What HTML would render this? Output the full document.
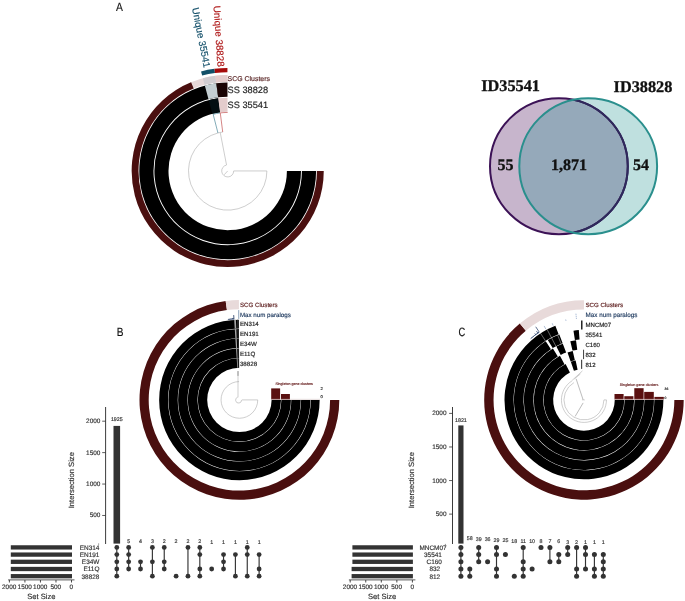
<!DOCTYPE html>
<html><head><meta charset="utf-8"><title>Figure</title>
<style>html,body{margin:0;padding:0;background:#fff}svg{display:block}text{text-rendering:geometricPrecision;font-family:"Liberation Sans",sans-serif}.serif{font-family:"Liberation Serif",serif;font-weight:bold}</style>
</head><body>
<svg width="685" height="601" viewBox="0 0 685 601">
<rect width="685" height="601" fill="#fff"/>
<text transform="translate(116.1,11.2) scale(0.86,1)" font-size="12" fill="#111" stroke="#111" stroke-width="0.15">A</text>
<text transform="translate(116.8,336.4) scale(0.84,1)" font-size="12" fill="#111" stroke="#111" stroke-width="0.15">B</text>
<text transform="translate(458.5,335.8) scale(0.78,1)" font-size="12" fill="#111" stroke="#111" stroke-width="0.15">C</text>
<g transform="translate(227.7,170.95) scale(1,1)">
<path d="M96.05 0A96.05 96.05 0 1 1 -36.14 -88.99L-33.56 -82.65A89.2 89.2 0 1 0 89.2 0Z" fill="#4a0f0f" />
<path d="M-36.6 -88.8A96.05 96.05 0 0 1 -0.25 -96.05L-0.23 -89.2A89.2 89.2 0 0 0 -33.99 -82.47Z" fill="#e7d8d8" />
<path d="M-24.86 -92.78A96.05 96.05 0 0 1 -12.37 -95.25L-11.49 -88.46A89.2 89.2 0 0 0 -23.09 -86.16Z" fill="#d0ccd0" />
<path d="M-12.37 -95.25A96.05 96.05 0 0 1 -0.25 -96.05L-0.23 -89.2A89.2 89.2 0 0 0 -11.49 -88.46Z" fill="#e4cccc" />
<path d="M88.4 0A88.4 88.4 0 1 1 -11.08 -87.7L-9.3 -73.61A74.2 74.2 0 1 0 74.2 0Z" fill="#000" />
<path d="M-22.88 -85.39A88.4 88.4 0 0 1 -11.39 -87.66L-9.56 -73.58A74.2 74.2 0 0 0 -19.2 -71.67Z" fill="#c4ced2" />
<path d="M-11.39 -87.66A88.4 88.4 0 0 1 -0.23 -88.4L-0.19 -74.2A74.2 74.2 0 0 0 -9.56 -73.58Z" fill="#1a0404" />
<path d="M73.3 0A73.3 73.3 0 1 1 -9.44 -72.69L-7.62 -58.71A59.2 59.2 0 1 0 59.2 0Z" fill="#000" />
<path d="M-18.97 -70.8A73.3 73.3 0 0 1 -9.44 -72.69L-7.62 -58.71A59.2 59.2 0 0 0 -15.32 -57.18Z" fill="#030e12" />
<path d="M-9.44 -72.69A73.3 73.3 0 0 1 -0.19 -73.3L-0.15 -59.2A59.2 59.2 0 0 0 -7.62 -58.71Z" fill="#e4cccc" />
<path d="M-26.66 -99.49A103 103 0 0 1 -13.27 -102.14L-12.71 -97.88A98.7 98.7 0 0 0 -25.55 -95.34Z" fill="#115068" />
<path d="M-13.27 -102.14A103 103 0 0 1 -0.27 -103L-0.26 -98.7A98.7 98.7 0 0 0 -12.71 -97.88Z" fill="#a50a0a" />
<path d="M39.2 0A39.2 39.2 0 1 1 -9.75 -37.97" fill="none" stroke="#9c9c9c" stroke-width="0.5" />
<line x1="6" y1="0" x2="39.2" y2="0" stroke="#9c9c9c" stroke-width="0.5" />
<path d="M6 0A6 6 0 1 1 -1.25 -5.87" fill="none" stroke="#9c9c9c" stroke-width="0.5" />
<line x1="0" y1="0" x2="-3.5" y2="3.8" stroke="#9c9c9c" stroke-width="0.5" />
<line x1="-1.14" y1="-5.89" x2="-7.48" y2="-38.48" stroke="#9c9c9c" stroke-width="0.5"/>
<path d="M-9.75 -37.97A39.2 39.2 0 0 1 -4.98 -38.88" fill="none" stroke="#9c9c9c" stroke-width="0.5" />
<line x1="-9.75" y1="-37.97" x2="-14.55" y2="-56.66" stroke="#2f7488" stroke-width="0.6"/>
<path d="M-14.55 -56.66A58.5 58.5 0 0 1 -7.64 -58" fill="none" stroke="#2f7488" stroke-width="0.6" />
<line x1="-4.98" y1="-38.88" x2="-7.43" y2="-58.03" stroke="#b83434" stroke-width="0.6"/>
<path d="M-7.43 -58.03A58.5 58.5 0 0 1 -0 -58.5" fill="none" stroke="#b83434" stroke-width="0.6" />
</g>
<text x="227.6" y="80.6" font-size="6.95" fill="#5a2626" stroke="#5a2626" stroke-width="0.16" text-anchor="start" >SCG Clusters</text>
<text x="227.5" y="93.2" font-size="9.25" fill="#1a1a1a" stroke="#1a1a1a" stroke-width="0.16" text-anchor="start" >SS 38828</text>
<text x="227.5" y="108.4" font-size="9.25" fill="#1a1a1a" stroke="#1a1a1a" stroke-width="0.16" text-anchor="start" >SS 35541</text>
<g transform="translate(227.7,170.95) rotate(86.3)">
<text x="-104.5" y="3.4" font-size="9.8" fill="#b01a1a" stroke="#b01a1a" stroke-width="0.16" text-anchor="end" >Unique 38828</text>
</g>
<g transform="translate(227.7,170.95) rotate(78.8)">
<text x="-105.5" y="3.4" font-size="9.8" fill="#14506a" stroke="#14506a" stroke-width="0.16" text-anchor="end" >Unique 35541</text>
</g>
<ellipse cx="558.9" cy="166.2" rx="68.9" ry="68.0" fill="#c7b5cc"/>
<ellipse cx="588.2" cy="166.2" rx="68.9" ry="68.0" fill="#bfe0df"/>
<clipPath id="cv"><ellipse cx="558.9" cy="166.2" rx="68.9" ry="68.0"/></clipPath>
<clipPath id="ct"><ellipse cx="588.2" cy="166.2" rx="68.9" ry="68.0"/></clipPath>
<ellipse cx="588.2" cy="166.2" rx="68.9" ry="68.0" fill="#95a9ba" clip-path="url(#cv)"/>
<ellipse cx="558.9" cy="166.2" rx="68.9" ry="68.0" fill="none" stroke="#3c1256" stroke-width="2"/>
<ellipse cx="558.9" cy="166.2" rx="68.9" ry="68.0" fill="none" stroke="#2e2a5c" stroke-width="2" clip-path="url(#ct)"/>
<ellipse cx="588.2" cy="166.2" rx="68.9" ry="68.0" fill="none" stroke="#2a8f8d" stroke-width="2"/>
<text x="481.2" y="91.2" font-size="16.3" fill="#111" stroke="#111" stroke-width="0.3" text-anchor="start" class="serif">ID35541</text>
<text x="613.6" y="92.2" font-size="16.3" fill="#111" stroke="#111" stroke-width="0.3" text-anchor="start" class="serif">ID38828</text>
<text x="505.5" y="169.8" font-size="16" fill="#111" stroke="#111" stroke-width="0.3" text-anchor="middle" class="serif">55</text>
<text x="569" y="169.8" font-size="16" fill="#111" stroke="#111" stroke-width="0.3" text-anchor="middle" class="serif">1,871</text>
<text x="641" y="169.8" font-size="16" fill="#111" stroke="#111" stroke-width="0.3" text-anchor="middle" class="serif">54</text>
<g transform="translate(239.4,399.9) scale(1,1)">
<path d="M99.9 0A99.9 99.9 0 1 1 -13.73 -98.95L-12.47 -89.84A90.7 90.7 0 1 0 90.7 0Z" fill="#4a0f0f" />
<path d="M-13.73 -98.95A99.9 99.9 0 0 1 -0.49 -99.9L-0.44 -90.7A90.7 90.7 0 0 0 -12.47 -89.84Z" fill="#e8dada" />
<path d="M80.25 0A80.25 80.25 0 1 1 -0.56 -80.25L-0.5 -71.4A71.4 71.4 0 1 0 71.4 0Z" fill="#000" />
<path d="M71 0A71 71 0 1 1 -0.5 -71L-0.43 -61.7A61.7 61.7 0 1 0 61.7 0Z" fill="#000" />
<path d="M61.3 0A61.3 61.3 0 1 1 -0.43 -61.3L-0.36 -51.9A51.9 51.9 0 1 0 51.9 0Z" fill="#000" />
<path d="M51.5 0A51.5 51.5 0 1 1 -0.36 -51.5L-0.29 -42A42 42 0 1 0 42 0Z" fill="#000" />
<path d="M41.6 0A41.6 41.6 0 1 1 -0.29 -41.6L-0.22 -32.2A32.2 32.2 0 1 0 32.2 0Z" fill="#000" />
<path d="M-5.25 -80.08A80.25 80.25 0 0 1 -3.5 -80.17L-3.11 -71.33A71.4 71.4 0 0 0 -4.67 -71.25Z" fill="#a4a4a4" />
<path d="M-2.1 -80.22A80.25 80.25 0 0 1 -1.26 -80.24L-1.12 -71.39A71.4 71.4 0 0 0 -1.87 -71.38Z" fill="#3a3a3a" />
<path d="M-4.64 -70.85A71 71 0 0 1 -3.1 -70.93L-2.69 -61.64A61.7 61.7 0 0 0 -4.04 -61.57Z" fill="#a4a4a4" />
<path d="M-1.86 -70.98A71 71 0 0 1 -1.12 -70.99L-0.97 -61.69A61.7 61.7 0 0 0 -1.62 -61.68Z" fill="#3a3a3a" />
<path d="M-4.01 -61.17A61.3 61.3 0 0 1 -2.67 -61.24L-2.26 -51.85A51.9 51.9 0 0 0 -3.39 -51.79Z" fill="#a4a4a4" />
<path d="M-1.6 -61.28A61.3 61.3 0 0 1 -0.96 -61.29L-0.82 -51.89A51.9 51.9 0 0 0 -1.36 -51.88Z" fill="#3a3a3a" />
<path d="M-3.37 -51.39A51.5 51.5 0 0 1 -2.25 -51.45L-1.83 -41.96A42 42 0 0 0 -2.75 -41.91Z" fill="#a4a4a4" />
<path d="M-1.35 -51.48A51.5 51.5 0 0 1 -0.81 -51.49L-0.66 -41.99A42 42 0 0 0 -1.1 -41.99Z" fill="#3a3a3a" />
<path d="M-2.72 -41.51A41.6 41.6 0 0 1 -1.81 -41.56L-1.4 -32.17A32.2 32.2 0 0 0 -2.11 -32.13Z" fill="#a4a4a4" />
<path d="M-1.09 -41.59A41.6 41.6 0 0 1 -0.65 -41.59L-0.51 -32.2A32.2 32.2 0 0 0 -0.84 -32.19Z" fill="#3a3a3a" />
<line x1="-0.64" y1="-81" x2="-0.71" y2="-89.8" stroke="#6f8aa8" stroke-width="0.8"/>
<line x1="-10.94" y1="-79.85" x2="-11.06" y2="-80.75" stroke="#1c3560" stroke-width="0.8"/>
<line x1="-10.1" y1="-79.96" x2="-10.26" y2="-81.25" stroke="#1c3560" stroke-width="0.8"/>
<line x1="-9.26" y1="-80.07" x2="-9.38" y2="-81.06" stroke="#1c3560" stroke-width="0.8"/>
<line x1="-8.42" y1="-80.16" x2="-8.57" y2="-81.55" stroke="#1c3560" stroke-width="0.8"/>
<line x1="-7.59" y1="-80.24" x2="-7.7" y2="-81.44" stroke="#1c3560" stroke-width="0.8"/>
<line x1="-6.74" y1="-80.32" x2="-6.87" y2="-81.81" stroke="#1c3560" stroke-width="0.8"/>
<line x1="-6.04" y1="-80.37" x2="-6.16" y2="-81.97" stroke="#1c3560" stroke-width="0.8"/>
<line x1="-5.41" y1="-80.42" x2="-5.71" y2="-84.81" stroke="#1c3560" stroke-width="0.8"/>
<path d="M18.35 0A18.35 18.35 0 1 1 -0.32 -18.35" fill="none" stroke="#9c9c9c" stroke-width="0.5" />
<line x1="2.6" y1="0" x2="18.35" y2="0" stroke="#9c9c9c" stroke-width="0.5" />
<path d="M2.6 0A3 3 0 1 1 -1.3 -2.7" transform="translate(-0.4,0)" fill="none" stroke="#9c9c9c" stroke-width="0.5"/>
<line x1="-1.4" y1="-2.6" x2="-1.4" y2="-28.8" stroke="#9c9c9c" stroke-width="0.5" />
<line x1="-1.4" y1="-24" x2="-1.4" y2="-28.8" stroke="#777" stroke-width="0.7" />
</g>
<rect x="271.2" y="388.4" width="8.9" height="11.1" fill="#5a1010"/>
<rect x="281.0" y="394.0" width="8.9" height="5.5" fill="#5a1010"/>
<line x1="271.2" y1="399.3" x2="320" y2="399.3" stroke="#cbb8b8" stroke-width="0.5" />
<text x="275.4" y="385.3" font-size="3.62" fill="#6e2a2a" stroke="#6e2a2a" stroke-width="0.16" text-anchor="start" >Singleton gene clusters</text>
<text x="320.4" y="389.7" font-size="4.2" fill="#222" stroke="#222" stroke-width="0.16" text-anchor="start" >2</text>
<text x="320.4" y="398.4" font-size="4.2" fill="#222" stroke="#222" stroke-width="0.16" text-anchor="start" >0</text>
<text x="239.9" y="306.9" font-size="6.2" fill="#5a1a1a" stroke="#5a1a1a" stroke-width="0.16" text-anchor="start" >SCG Clusters</text>
<text x="239.9" y="316.6" font-size="6.2" fill="#1f3a5f" stroke="#1f3a5f" stroke-width="0.16" text-anchor="start" >Max num paralogs</text>
<text x="239.9" y="326.3" font-size="6.2" fill="#222" stroke="#222" stroke-width="0.16" text-anchor="start" >EN314</text>
<text x="239.9" y="336" font-size="6.2" fill="#222" stroke="#222" stroke-width="0.16" text-anchor="start" >EN191</text>
<text x="239.9" y="345.9" font-size="6.2" fill="#222" stroke="#222" stroke-width="0.16" text-anchor="start" >E34W</text>
<text x="239.9" y="355.9" font-size="6.2" fill="#222" stroke="#222" stroke-width="0.16" text-anchor="start" >E11Q</text>
<text x="239.9" y="365.8" font-size="6.2" fill="#222" stroke="#222" stroke-width="0.16" text-anchor="start" >38828</text>
<g transform="translate(583.95,399.9) scale(1,1)">
<path d="M99.75 0A99.75 99.75 0 1 1 -64.12 -76.41L-58.11 -69.25A90.4 90.4 0 1 0 90.4 0Z" fill="#4a0f0f" />
<path d="M-64.12 -76.41A99.75 99.75 0 0 1 -0 -99.75L-0 -90.4A90.4 90.4 0 0 0 -58.11 -69.25Z" fill="#e8dada" />
<path d="M79.45 0A79.45 79.45 0 1 1 -28.6 -74.12L-25.34 -65.68A70.4 70.4 0 1 0 70.4 0Z" fill="#000" />
<path d="M70 0A70 70 0 1 1 -38.23 -58.64L-33.04 -50.68A60.5 60.5 0 1 0 60.5 0Z" fill="#000" />
<path d="M-36.16 -59.94A70 70 0 0 1 -24.63 -65.52L-21.29 -56.63A60.5 60.5 0 0 0 -31.25 -51.8Z" fill="#000" />
<path d="M60.1 0A60.1 60.1 0 1 1 -31.04 -51.46L-26.14 -43.33A50.6 50.6 0 1 0 50.6 0Z" fill="#000" />
<path d="M-27.56 -53.41A60.1 60.1 0 0 1 -21.15 -56.26L-17.8 -47.36A50.6 50.6 0 0 0 -23.21 -44.96Z" fill="#000" />
<path d="M50.2 0A50.2 50.2 0 1 1 -24.03 -44.07L-19.48 -35.73A40.7 40.7 0 1 0 40.7 0Z" fill="#000" />
<path d="M40.3 0A40.3 40.3 0 1 1 -18.36 -35.88L-14.03 -27.42A30.8 30.8 0 1 0 30.8 0Z" fill="#000" />
<path d="M-10.47 -69.21A70 70 0 0 1 -5.13 -69.81L-4.43 -60.34A60.5 60.5 0 0 0 -9.05 -59.82Z" fill="#000" />
<path d="M-13.62 -58.54A60.1 60.1 0 0 1 -7.95 -59.57L-6.69 -50.16A50.6 50.6 0 0 0 -11.47 -49.28Z" fill="#000" />
<path d="M-16.43 -47.44A50.2 50.2 0 0 1 -11.21 -48.93L-9.09 -39.67A40.7 40.7 0 0 0 -13.32 -38.46Z" fill="#000" />
<path d="M-13.12 -38.1A40.3 40.3 0 0 1 -8.31 -39.43L-6.35 -30.14A30.8 30.8 0 0 0 -10.03 -29.12Z" fill="#000" />
<rect x="-2.8" y="-79.4" width="1.3" height="9.0" fill="#000"/>
<rect x="-0.7" y="-50.2" width="0.8" height="9.4" fill="#111"/>
<rect x="-2.7" y="-40.2" width="0.9" height="9.2" fill="#111"/>
<line x1="-38.34" y1="-58.81" x2="-43.5" y2="-66.72" stroke="#fff" stroke-width="0.4"/>
<line x1="-27.94" y1="-53.44" x2="-36.9" y2="-70.59" stroke="#fff" stroke-width="0.4"/>
<line x1="-22.69" y1="-55.87" x2="-26.41" y2="-65.04" stroke="#fff" stroke-width="0.4"/>
<path d="M-53.27 -61.28A81.2 81.2 0 0 1 -44.94 -67.63" fill="none" stroke="#1c3560" stroke-width="0.9" />
<line x1="-44.59" y1="-67.62" x2="-48.22" y2="-73.13" stroke="#1c3560" stroke-width="0.7"/>
<line x1="-46" y1="-66.67" x2="-47.47" y2="-68.81" stroke="#1c3560" stroke-width="0.7"/>
<line x1="-48.18" y1="-65.11" x2="-49.25" y2="-66.56" stroke="#1c3560" stroke-width="0.6"/>
<line x1="-38.16" y1="-70.88" x2="-39.82" y2="-73.96" stroke="#5577aa" stroke-width="0.45"/>
<line x1="-30.81" y1="-74.37" x2="-31.76" y2="-76.68" stroke="#5577aa" stroke-width="0.45"/>
<line x1="-17.95" y1="-78.99" x2="-18.28" y2="-80.45" stroke="#5577aa" stroke-width="0.45"/>
<line x1="-7.51" y1="-80.95" x2="-8.04" y2="-86.63" stroke="#5577aa" stroke-width="0.5" stroke-dasharray="1.3 0.7"/>
<path d="M22.5 0A22.5 22.5 0 1 1 -11.92 -19.08" fill="none" stroke="#9c9c9c" stroke-width="0.5" />
<path d="M20 0A20 20 0 1 1 -10 -17.32" fill="none" stroke="#9c9c9c" stroke-width="0.5" />
<line x1="20" y1="0" x2="22.5" y2="0" stroke="#9c9c9c" stroke-width="0.5" />
<line x1="-7.8" y1="-21" x2="-0.8" y2="0" stroke="#858585" stroke-width="0.55" />
<line x1="-0.8" y1="3" x2="-8.8" y2="16.5" stroke="#858585" stroke-width="0.55" />
<line x1="-2" y1="0" x2="1" y2="0" stroke="#9c9c9c" stroke-width="0.4" />
<line x1="-11.8" y1="-19.5" x2="-1.5" y2="-29" stroke="#9c9c9c" stroke-width="0.5" />
<line x1="-9.5" y1="-21" x2="-3.5" y2="-26" stroke="#9c9c9c" stroke-width="0.5" />
</g>
<rect x="614.5" y="394.0" width="9.1" height="5.5" fill="#5a1010"/>
<rect x="624.3" y="396.2" width="9.1" height="3.3" fill="#5a1010"/>
<rect x="634.3" y="388.2" width="9.3" height="11.3" fill="#5a1010"/>
<rect x="644.2" y="391.9" width="9.6" height="7.6" fill="#5a1010"/>
<rect x="654.4" y="396.9" width="9.4" height="2.6" fill="#5a1010"/>
<line x1="614.5" y1="399.3" x2="664" y2="399.3" stroke="#cbb8b8" stroke-width="0.5" />
<text x="619.8" y="386.1" font-size="3.72" fill="#6e2a2a" stroke="#6e2a2a" stroke-width="0.16" text-anchor="start" >Singleton gene clusters</text>
<text x="664.6" y="389.6" font-size="3.4" fill="#222" stroke="#222" stroke-width="0.16" text-anchor="start" >36</text>
<text x="664.6" y="398.8" font-size="3.4" fill="#222" stroke="#222" stroke-width="0.16" text-anchor="start" >0</text>
<text x="585.5" y="306.5" font-size="6.15" fill="#5a1a1a" stroke="#5a1a1a" stroke-width="0.16" text-anchor="start" >SCG Clusters</text>
<text x="585.5" y="316.6" font-size="6.3" fill="#1f3a5f" stroke="#1f3a5f" stroke-width="0.16" text-anchor="start" >Max num paralogs</text>
<text x="585.5" y="326.85" font-size="6.05" fill="#222" stroke="#222" stroke-width="0.16" text-anchor="start" >MNCM07</text>
<text x="585.5" y="336.85" font-size="6.05" fill="#222" stroke="#222" stroke-width="0.16" text-anchor="start" >35541</text>
<text x="585.5" y="346.85" font-size="6.05" fill="#222" stroke="#222" stroke-width="0.16" text-anchor="start" >C160</text>
<text x="585.5" y="356.85" font-size="6.05" fill="#222" stroke="#222" stroke-width="0.16" text-anchor="start" >832</text>
<text x="585.5" y="366.85" font-size="6.05" fill="#222" stroke="#222" stroke-width="0.16" text-anchor="start" >812</text>
<line x1="105.6" y1="407" x2="105.6" y2="544" stroke="#3c3c3c" stroke-width="1.0" />
<line x1="102.2" y1="515.48" x2="105.6" y2="515.48" stroke="#333" stroke-width="0.8" />
<text x="100.4" y="517.48" font-size="6.45" fill="#333" stroke="#333" stroke-width="0.16" text-anchor="end" >500</text>
<line x1="102.2" y1="484.05" x2="105.6" y2="484.05" stroke="#333" stroke-width="0.8" />
<text x="100.4" y="486.05" font-size="6.45" fill="#333" stroke="#333" stroke-width="0.16" text-anchor="end" >1000</text>
<line x1="102.2" y1="452.62" x2="105.6" y2="452.62" stroke="#333" stroke-width="0.8" />
<text x="100.4" y="454.62" font-size="6.45" fill="#333" stroke="#333" stroke-width="0.16" text-anchor="end" >1500</text>
<line x1="102.2" y1="421.2" x2="105.6" y2="421.2" stroke="#333" stroke-width="0.8" />
<text x="100.4" y="423.2" font-size="6.45" fill="#333" stroke="#333" stroke-width="0.16" text-anchor="end" >2000</text>
<text transform="translate(73.8,480.2) rotate(-90)" font-size="7.6" fill="#333" stroke="#333" stroke-width="0.16" text-anchor="middle">Intersection Size</text>
<rect x="113.5" y="425.91" width="6.6" height="117.69" fill="#333"/>
<text x="116.8" y="421.01" font-size="5.3" fill="#333" stroke="#333" stroke-width="0.16" text-anchor="middle" >1925</text>
<text x="128.66" y="543.29" font-size="5.3" fill="#333" stroke="#333" stroke-width="0.16" text-anchor="middle" >5</text>
<text x="140.52" y="543.35" font-size="5.3" fill="#333" stroke="#333" stroke-width="0.16" text-anchor="middle" >4</text>
<text x="152.38" y="543.41" font-size="5.3" fill="#333" stroke="#333" stroke-width="0.16" text-anchor="middle" >3</text>
<text x="164.24" y="543.47" font-size="5.3" fill="#333" stroke="#333" stroke-width="0.16" text-anchor="middle" >2</text>
<text x="176.1" y="543.47" font-size="5.3" fill="#333" stroke="#333" stroke-width="0.16" text-anchor="middle" >2</text>
<text x="187.96" y="543.47" font-size="5.3" fill="#333" stroke="#333" stroke-width="0.16" text-anchor="middle" >2</text>
<text x="199.82" y="543.47" font-size="5.3" fill="#333" stroke="#333" stroke-width="0.16" text-anchor="middle" >2</text>
<text x="211.68" y="543.54" font-size="5.3" fill="#333" stroke="#333" stroke-width="0.16" text-anchor="middle" >1</text>
<text x="223.54" y="543.54" font-size="5.3" fill="#333" stroke="#333" stroke-width="0.16" text-anchor="middle" >1</text>
<text x="235.4" y="543.54" font-size="5.3" fill="#333" stroke="#333" stroke-width="0.16" text-anchor="middle" >1</text>
<text x="247.26" y="543.54" font-size="5.3" fill="#333" stroke="#333" stroke-width="0.16" text-anchor="middle" >1</text>
<text x="259.12" y="543.54" font-size="5.3" fill="#333" stroke="#333" stroke-width="0.16" text-anchor="middle" >1</text>
<line x1="116.8" y1="547.4" x2="116.8" y2="576.2" stroke="#333" stroke-width="1.15" />
<circle cx="116.8" cy="547.4" r="2.4" fill="#333"/>
<circle cx="116.8" cy="554.6" r="2.4" fill="#333"/>
<circle cx="116.8" cy="561.8" r="2.4" fill="#333"/>
<circle cx="116.8" cy="569.0" r="2.4" fill="#333"/>
<circle cx="116.8" cy="576.2" r="2.4" fill="#333"/>
<line x1="128.66" y1="547.4" x2="128.66" y2="569" stroke="#333" stroke-width="1.15" />
<circle cx="128.66" cy="547.4" r="2.4" fill="#333"/>
<circle cx="128.66" cy="554.6" r="2.4" fill="#333"/>
<circle cx="128.66" cy="561.8" r="2.4" fill="#333"/>
<circle cx="128.66" cy="569.0" r="2.4" fill="#333"/>
<line x1="140.52" y1="561.8" x2="140.52" y2="569" stroke="#333" stroke-width="1.15" />
<circle cx="140.52" cy="561.8" r="2.4" fill="#333"/>
<circle cx="140.52" cy="569.0" r="2.4" fill="#333"/>
<line x1="152.38" y1="547.4" x2="152.38" y2="576.2" stroke="#333" stroke-width="1.15" />
<circle cx="152.38" cy="547.4" r="2.4" fill="#333"/>
<circle cx="152.38" cy="561.8" r="2.4" fill="#333"/>
<circle cx="152.38" cy="576.2" r="2.4" fill="#333"/>
<line x1="164.24" y1="547.4" x2="164.24" y2="569" stroke="#333" stroke-width="1.15" />
<circle cx="164.24" cy="547.4" r="2.4" fill="#333"/>
<circle cx="164.24" cy="561.8" r="2.4" fill="#333"/>
<circle cx="164.24" cy="569.0" r="2.4" fill="#333"/>
<circle cx="176.1" cy="576.2" r="2.4" fill="#333"/>
<line x1="187.96" y1="547.4" x2="187.96" y2="576.2" stroke="#333" stroke-width="1.15" />
<circle cx="187.96" cy="547.4" r="2.4" fill="#333"/>
<circle cx="187.96" cy="576.2" r="2.4" fill="#333"/>
<line x1="199.82" y1="547.4" x2="199.82" y2="576.2" stroke="#333" stroke-width="1.15" />
<circle cx="199.82" cy="547.4" r="2.4" fill="#333"/>
<circle cx="199.82" cy="554.6" r="2.4" fill="#333"/>
<circle cx="199.82" cy="569.0" r="2.4" fill="#333"/>
<circle cx="199.82" cy="576.2" r="2.4" fill="#333"/>
<circle cx="211.68" cy="569.0" r="2.4" fill="#333"/>
<line x1="223.54" y1="554.6" x2="223.54" y2="569" stroke="#333" stroke-width="1.15" />
<circle cx="223.54" cy="554.6" r="2.4" fill="#333"/>
<circle cx="223.54" cy="561.8" r="2.4" fill="#333"/>
<circle cx="223.54" cy="569.0" r="2.4" fill="#333"/>
<line x1="235.4" y1="554.6" x2="235.4" y2="576.2" stroke="#333" stroke-width="1.15" />
<circle cx="235.4" cy="554.6" r="2.4" fill="#333"/>
<circle cx="235.4" cy="576.2" r="2.4" fill="#333"/>
<line x1="247.26" y1="547.4" x2="247.26" y2="576.2" stroke="#333" stroke-width="1.15" />
<circle cx="247.26" cy="547.4" r="2.4" fill="#333"/>
<circle cx="247.26" cy="554.6" r="2.4" fill="#333"/>
<circle cx="247.26" cy="576.2" r="2.4" fill="#333"/>
<line x1="259.12" y1="554.6" x2="259.12" y2="576.2" stroke="#333" stroke-width="1.15" />
<circle cx="259.12" cy="554.6" r="2.4" fill="#333"/>
<circle cx="259.12" cy="569.0" r="2.4" fill="#333"/>
<circle cx="259.12" cy="576.2" r="2.4" fill="#333"/>
<rect x="10.8" y="545.25" width="61.2" height="4.3" fill="#333"/>
<text x="99.4" y="549.8" font-size="6.45" fill="#333" stroke="#333" stroke-width="0.16" text-anchor="end" >EN314</text>
<rect x="10.8" y="552.45" width="61.2" height="4.3" fill="#333"/>
<text x="99.4" y="557" font-size="6.45" fill="#333" stroke="#333" stroke-width="0.16" text-anchor="end" >EN191</text>
<rect x="10.8" y="559.65" width="61.2" height="4.3" fill="#333"/>
<text x="99.4" y="564.2" font-size="6.45" fill="#333" stroke="#333" stroke-width="0.16" text-anchor="end" >E34W</text>
<rect x="10.8" y="566.85" width="61.2" height="4.3" fill="#333"/>
<text x="99.4" y="571.4" font-size="6.45" fill="#333" stroke="#333" stroke-width="0.16" text-anchor="end" >E11Q</text>
<rect x="10.8" y="574.05" width="61.2" height="4.3" fill="#333"/>
<text x="99.4" y="578.6" font-size="6.45" fill="#333" stroke="#333" stroke-width="0.16" text-anchor="end" >38828</text>
<line x1="8.1" y1="579.9" x2="74.5" y2="579.9" stroke="#5a5a5a" stroke-width="1.0" />
<line x1="71.5" y1="580" x2="71.5" y2="582.5" stroke="#333" stroke-width="0.9" />
<text x="71.3" y="589.4" font-size="6.45" fill="#333" stroke="#333" stroke-width="0.16" text-anchor="middle" >0</text>
<line x1="55.98" y1="580" x2="55.98" y2="582.5" stroke="#333" stroke-width="0.9" />
<text x="55.77" y="589.4" font-size="6.45" fill="#333" stroke="#333" stroke-width="0.16" text-anchor="middle" >500</text>
<line x1="40.45" y1="580" x2="40.45" y2="582.5" stroke="#333" stroke-width="0.9" />
<text x="40.25" y="589.4" font-size="6.45" fill="#333" stroke="#333" stroke-width="0.16" text-anchor="middle" >1000</text>
<line x1="24.92" y1="580" x2="24.92" y2="582.5" stroke="#333" stroke-width="0.9" />
<text x="24.72" y="589.4" font-size="6.45" fill="#333" stroke="#333" stroke-width="0.16" text-anchor="middle" >1500</text>
<line x1="9.4" y1="580" x2="9.4" y2="582.5" stroke="#333" stroke-width="0.9" />
<text x="9.2" y="589.4" font-size="6.45" fill="#333" stroke="#333" stroke-width="0.16" text-anchor="middle" >2000</text>
<text x="41.35" y="599" font-size="7.6" fill="#333" stroke="#333" stroke-width="0.16" text-anchor="middle" >Set Size</text>
<line x1="452.5" y1="407" x2="452.5" y2="544" stroke="#3c3c3c" stroke-width="1.0" />
<line x1="449.1" y1="514.12" x2="452.5" y2="514.12" stroke="#333" stroke-width="0.8" />
<text x="446.5" y="516.12" font-size="6.45" fill="#333" stroke="#333" stroke-width="0.16" text-anchor="end" >500</text>
<line x1="449.1" y1="480.55" x2="452.5" y2="480.55" stroke="#333" stroke-width="0.8" />
<text x="446.5" y="482.55" font-size="6.45" fill="#333" stroke="#333" stroke-width="0.16" text-anchor="end" >1000</text>
<line x1="449.1" y1="446.98" x2="452.5" y2="446.98" stroke="#333" stroke-width="0.8" />
<text x="446.5" y="448.98" font-size="6.45" fill="#333" stroke="#333" stroke-width="0.16" text-anchor="end" >1500</text>
<line x1="449.1" y1="413.4" x2="452.5" y2="413.4" stroke="#333" stroke-width="0.8" />
<text x="446.5" y="415.4" font-size="6.45" fill="#333" stroke="#333" stroke-width="0.16" text-anchor="end" >2000</text>
<text transform="translate(413.5,480.2) rotate(-90)" font-size="7.6" fill="#333" stroke="#333" stroke-width="0.16" text-anchor="middle">Intersection Size</text>
<rect x="458.3" y="425.42" width="5.2" height="118.18" fill="#333"/>
<text x="460.9" y="421.72" font-size="5.3" fill="#333" stroke="#333" stroke-width="0.16" text-anchor="middle" >1821</text>
<text x="469.8" y="539.91" font-size="5.3" fill="#333" stroke="#333" stroke-width="0.16" text-anchor="middle" >58</text>
<text x="478.7" y="541.18" font-size="5.3" fill="#333" stroke="#333" stroke-width="0.16" text-anchor="middle" >39</text>
<text x="487.6" y="541.38" font-size="5.3" fill="#333" stroke="#333" stroke-width="0.16" text-anchor="middle" >36</text>
<text x="496.5" y="541.85" font-size="5.3" fill="#333" stroke="#333" stroke-width="0.16" text-anchor="middle" >29</text>
<text x="505.4" y="542.12" font-size="5.3" fill="#333" stroke="#333" stroke-width="0.16" text-anchor="middle" >25</text>
<text x="514.3" y="542.59" font-size="5.3" fill="#333" stroke="#333" stroke-width="0.16" text-anchor="middle" >18</text>
<text x="523.2" y="543.06" font-size="5.3" fill="#333" stroke="#333" stroke-width="0.16" text-anchor="middle" >11</text>
<text x="532.1" y="543.13" font-size="5.3" fill="#333" stroke="#333" stroke-width="0.16" text-anchor="middle" >10</text>
<text x="541" y="543.26" font-size="5.3" fill="#333" stroke="#333" stroke-width="0.16" text-anchor="middle" >8</text>
<text x="549.9" y="543.33" font-size="5.3" fill="#333" stroke="#333" stroke-width="0.16" text-anchor="middle" >7</text>
<text x="558.8" y="543.4" font-size="5.3" fill="#333" stroke="#333" stroke-width="0.16" text-anchor="middle" >6</text>
<text x="567.7" y="543.6" font-size="5.3" fill="#333" stroke="#333" stroke-width="0.16" text-anchor="middle" >3</text>
<text x="576.6" y="543.67" font-size="5.3" fill="#333" stroke="#333" stroke-width="0.16" text-anchor="middle" >2</text>
<text x="585.5" y="543.73" font-size="5.3" fill="#333" stroke="#333" stroke-width="0.16" text-anchor="middle" >1</text>
<text x="594.4" y="543.73" font-size="5.3" fill="#333" stroke="#333" stroke-width="0.16" text-anchor="middle" >1</text>
<text x="603.3" y="543.73" font-size="5.3" fill="#333" stroke="#333" stroke-width="0.16" text-anchor="middle" >1</text>
<line x1="460.9" y1="547.4" x2="460.9" y2="576.2" stroke="#333" stroke-width="1.15" />
<circle cx="460.9" cy="547.4" r="2.5" fill="#333"/>
<circle cx="460.9" cy="554.6" r="2.5" fill="#333"/>
<circle cx="460.9" cy="561.8" r="2.5" fill="#333"/>
<circle cx="460.9" cy="569.0" r="2.5" fill="#333"/>
<circle cx="460.9" cy="576.2" r="2.5" fill="#333"/>
<line x1="469.8" y1="569" x2="469.8" y2="576.2" stroke="#333" stroke-width="1.15" />
<circle cx="469.8" cy="569.0" r="2.5" fill="#333"/>
<circle cx="469.8" cy="576.2" r="2.5" fill="#333"/>
<line x1="478.7" y1="547.4" x2="478.7" y2="561.8" stroke="#333" stroke-width="1.15" />
<circle cx="478.7" cy="547.4" r="2.5" fill="#333"/>
<circle cx="478.7" cy="554.6" r="2.5" fill="#333"/>
<circle cx="478.7" cy="561.8" r="2.5" fill="#333"/>
<circle cx="487.6" cy="561.8" r="2.5" fill="#333"/>
<line x1="496.5" y1="547.4" x2="496.5" y2="576.2" stroke="#333" stroke-width="1.15" />
<circle cx="496.5" cy="547.4" r="2.5" fill="#333"/>
<circle cx="496.5" cy="554.6" r="2.5" fill="#333"/>
<circle cx="496.5" cy="569.0" r="2.5" fill="#333"/>
<circle cx="496.5" cy="576.2" r="2.5" fill="#333"/>
<circle cx="505.4" cy="554.6" r="2.5" fill="#333"/>
<circle cx="514.3" cy="576.2" r="2.5" fill="#333"/>
<line x1="523.2" y1="547.4" x2="523.2" y2="576.2" stroke="#333" stroke-width="1.15" />
<circle cx="523.2" cy="547.4" r="2.5" fill="#333"/>
<circle cx="523.2" cy="561.8" r="2.5" fill="#333"/>
<circle cx="523.2" cy="569.0" r="2.5" fill="#333"/>
<circle cx="523.2" cy="576.2" r="2.5" fill="#333"/>
<circle cx="532.1" cy="569.0" r="2.5" fill="#333"/>
<circle cx="541" cy="547.4" r="2.5" fill="#333"/>
<line x1="549.9" y1="547.4" x2="549.9" y2="561.8" stroke="#333" stroke-width="1.15" />
<circle cx="549.9" cy="547.4" r="2.5" fill="#333"/>
<circle cx="549.9" cy="561.8" r="2.5" fill="#333"/>
<line x1="558.8" y1="554.6" x2="558.8" y2="561.8" stroke="#333" stroke-width="1.15" />
<circle cx="558.8" cy="554.6" r="2.5" fill="#333"/>
<circle cx="558.8" cy="561.8" r="2.5" fill="#333"/>
<line x1="567.7" y1="547.4" x2="567.7" y2="554.6" stroke="#333" stroke-width="1.15" />
<circle cx="567.7" cy="547.4" r="2.5" fill="#333"/>
<circle cx="567.7" cy="554.6" r="2.5" fill="#333"/>
<line x1="576.6" y1="547.4" x2="576.6" y2="576.2" stroke="#333" stroke-width="1.15" />
<circle cx="576.6" cy="547.4" r="2.5" fill="#333"/>
<circle cx="576.6" cy="569.0" r="2.5" fill="#333"/>
<circle cx="576.6" cy="576.2" r="2.5" fill="#333"/>
<line x1="585.5" y1="547.4" x2="585.5" y2="569" stroke="#333" stroke-width="1.15" />
<circle cx="585.5" cy="547.4" r="2.5" fill="#333"/>
<circle cx="585.5" cy="554.6" r="2.5" fill="#333"/>
<circle cx="585.5" cy="569.0" r="2.5" fill="#333"/>
<line x1="594.4" y1="554.6" x2="594.4" y2="576.2" stroke="#333" stroke-width="1.15" />
<circle cx="594.4" cy="554.6" r="2.5" fill="#333"/>
<circle cx="594.4" cy="569.0" r="2.5" fill="#333"/>
<circle cx="594.4" cy="576.2" r="2.5" fill="#333"/>
<line x1="603.3" y1="554.6" x2="603.3" y2="576.2" stroke="#333" stroke-width="1.15" />
<circle cx="603.3" cy="554.6" r="2.5" fill="#333"/>
<circle cx="603.3" cy="561.8" r="2.5" fill="#333"/>
<circle cx="603.3" cy="569.0" r="2.5" fill="#333"/>
<circle cx="603.3" cy="576.2" r="2.5" fill="#333"/>
<rect x="352.4" y="545.25" width="60.5" height="4.3" fill="#333"/>
<text x="446.6" y="549.8" font-size="6.45" fill="#333" stroke="#333" stroke-width="0.16" text-anchor="end" >MNCM07</text>
<rect x="352.4" y="552.45" width="60.5" height="4.3" fill="#333"/>
<text x="441.9" y="557" font-size="6.45" fill="#333" stroke="#333" stroke-width="0.16" text-anchor="end" >35541</text>
<rect x="352.4" y="559.65" width="60.5" height="4.3" fill="#333"/>
<text x="441.9" y="564.2" font-size="6.45" fill="#333" stroke="#333" stroke-width="0.16" text-anchor="end" >C160</text>
<rect x="351.6" y="566.85" width="61.3" height="4.3" fill="#333"/>
<text x="440.2" y="571.4" font-size="6.45" fill="#333" stroke="#333" stroke-width="0.16" text-anchor="end" >832</text>
<rect x="351.6" y="574.05" width="61.3" height="4.3" fill="#333"/>
<text x="440.2" y="578.6" font-size="6.45" fill="#333" stroke="#333" stroke-width="0.16" text-anchor="end" >812</text>
<line x1="348.9" y1="579.9" x2="415.4" y2="579.9" stroke="#5a5a5a" stroke-width="1.0" />
<line x1="412.4" y1="580" x2="412.4" y2="582.5" stroke="#333" stroke-width="0.9" />
<text x="412.2" y="589.4" font-size="6.45" fill="#333" stroke="#333" stroke-width="0.16" text-anchor="middle" >0</text>
<line x1="396.85" y1="580" x2="396.85" y2="582.5" stroke="#333" stroke-width="0.9" />
<text x="396.65" y="589.4" font-size="6.45" fill="#333" stroke="#333" stroke-width="0.16" text-anchor="middle" >500</text>
<line x1="381.3" y1="580" x2="381.3" y2="582.5" stroke="#333" stroke-width="0.9" />
<text x="381.1" y="589.4" font-size="6.45" fill="#333" stroke="#333" stroke-width="0.16" text-anchor="middle" >1000</text>
<line x1="365.75" y1="580" x2="365.75" y2="582.5" stroke="#333" stroke-width="0.9" />
<text x="365.55" y="589.4" font-size="6.45" fill="#333" stroke="#333" stroke-width="0.16" text-anchor="middle" >1500</text>
<line x1="350.2" y1="580" x2="350.2" y2="582.5" stroke="#333" stroke-width="0.9" />
<text x="350" y="589.4" font-size="6.45" fill="#333" stroke="#333" stroke-width="0.16" text-anchor="middle" >2000</text>
<text x="382.2" y="599" font-size="7.6" fill="#333" stroke="#333" stroke-width="0.16" text-anchor="middle" >Set Size</text>
<rect x="444.9" y="543.9" width="0.8" height="1.4" fill="#777"/>
<rect x="98.3" y="543.4" width="0.8" height="1.4" fill="#777"/>
</svg></body></html>
